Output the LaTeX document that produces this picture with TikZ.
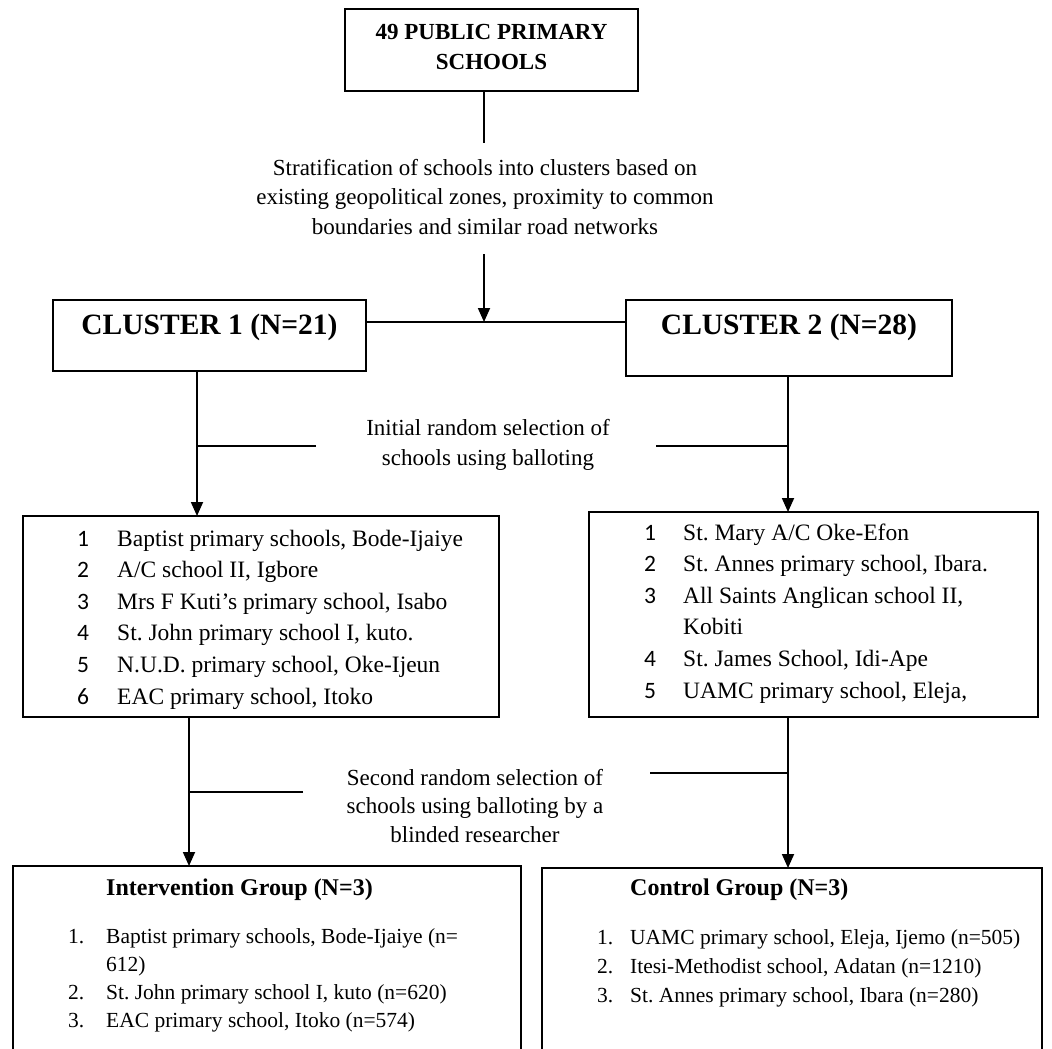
\documentclass[tikz,border=0pt]{standalone}
\usepackage{fontspec}
\setmainfont{Liberation Serif}
\newfontfamily\numfont{Carlito}
\usetikzlibrary{arrows.meta}
\frenchspacing
\begin{document}
\begin{tikzpicture}[x=1pt,y=-1pt,
  box/.style={draw, line width=1.8pt, inner sep=0pt, outer sep=0pt},
  ln/.style={line width=1.8pt},
  arr/.style={line width=1.8pt, -{Triangle[length=14pt,width=12pt]}},
  txt/.style={inner sep=0pt, align=center},
  listtxt/.style={inner sep=0pt, anchor=base west, font=\fontsize{23.5}{31.6}\selectfont},
  head/.style={inner sep=0pt, font=\bfseries\fontsize{29.5}{32}\selectfont},
  grouphead/.style={inner sep=0pt, anchor=west, font=\bfseries\fontsize{24}{28}\selectfont},
]
\useasboundingbox (0,0) rectangle (1052,1049);

% top box
\node[box, minimum width=293pt, minimum height=82pt] (top) at (491.5,50) {};
\node[txt, font=\bfseries\fontsize{23}{30}\selectfont] (toptxt) at (491.5,47) {49 PUBLIC PRIMARY\\SCHOOLS};

\coordinate (ax) at (484,0);
\coordinate (s1) at (484,143);
\node[txt, font=\fontsize{23}{29.5}\selectfont] (strat) at (485,197)
  {Stratification of schools into clusters based on\\existing geopolitical zones, proximity to common\\boundaries and similar road networks};
\coordinate (s2) at (484,254);
\coordinate (j) at (484,322);
\draw[ln] (top.south -| ax) -- (s1);
\draw[arr] (s2) -- (j);

% clusters
\node[box, minimum width=313pt, minimum height=71pt] (c1) at (209.5,335.5) {};
\node[head] (c1t) at (209.5,327) {CLUSTER 1 (N=21)};
\node[box, minimum width=326pt, minimum height=76pt] (c2) at (789,338) {};
\node[head] (c2t) at (789,327) {CLUSTER 2 (N=28)};
\draw[ln] (c1.east |- j) -- (c2.west |- j);

% list boxes
\node[box, minimum width=476pt, minimum height=201pt] (l1) at (261,616.5) {};
\node[box, minimum width=449pt, minimum height=205pt] (l2) at (813.5,614.5) {};

\coordinate (lx) at (197,0);
\coordinate (rx) at (788,0);
\draw[arr] (c1.south -| lx) -- (l1.north -| lx);
\coordinate (st1) at (316,446);
\draw[ln] (st1) -- (st1 -| lx);
\draw[arr] (c2.south -| rx) -- (l2.north -| rx);
\coordinate (st2) at (656,446);
\draw[ln] (st2) -- (st2 -| rx);

\node[txt, font=\fontsize{23}{30}\selectfont] (init) at (488,445)
  {Initial random selection of\\schools using balloting};

\node[listtxt] (l1t) at (77,546) {\begin{tabular}[t]{@{}p{40pt}@{}l@{}}
{\numfont 1} & Baptist primary schools, Bode-Ijaiye\\
{\numfont 2} & A/C school II, Igbore\\
{\numfont 3} & Mrs F Kuti’s primary school, Isabo\\
{\numfont 4} & St. John primary school I, kuto.\\
{\numfont 5} & N.U.D. primary school, Oke-Ijeun\\
{\numfont 6} & EAC primary school, Itoko
\end{tabular}};

\node[listtxt] (l2t) at (644,540) {\begin{tabular}[t]{@{}p{39pt}@{}l@{}}
{\numfont 1} & St. Mary A/C Oke-Efon\\
{\numfont 2} & St. Annes primary school, Ibara.\\
{\numfont 3} & All Saints Anglican school II,\\
 & Kobiti\\
{\numfont 4} & St. James School, Idi-Ape\\
{\numfont 5} & UAMC primary school, Eleja,
\end{tabular}};

% bottom boxes
\node[box, minimum width=508pt, minimum height=190pt, anchor=north west] (b1) at (13,866) {};
\node[box, minimum width=500pt, minimum height=190pt, anchor=north west] (b2) at (542,868) {};

\coordinate (lx2) at (189,0);
\draw[arr] (l1.south -| lx2) -- (b1.north -| lx2);
\coordinate (st3) at (303,792);
\draw[ln] (st3) -- (st3 -| lx2);
\draw[arr] (l2.south -| rx) -- (b2.north -| rx);
\coordinate (st4) at (650,773);
\draw[ln] (st4) -- (st4 -| rx);

\node[txt, font=\fontsize{23}{28.5}\selectfont] (sec) at (475,806)
  {Second random selection of\\schools using balloting by a\\blinded researcher};

\node[grouphead] (b1h) at (106,890) {Intervention Group (N=3)};
\node[listtxt, font=\fontsize{21.5}{28.3}\selectfont] (b1t) at (68,943) {\begin{tabular}[t]{@{}p{38pt}@{}l@{}}
1. & Baptist primary schools, Bode-Ijaiye (n=\\
 & 612)\\
2. & St. John primary school I, kuto (n=620)\\
3. & EAC primary school, Itoko (n=574)
\end{tabular}};

\node[grouphead] (b2h) at (630,890) {Control Group (N=3)};
\node[listtxt, font=\fontsize{21.5}{29}\selectfont] (b2t) at (597,944) {\begin{tabular}[t]{@{}p{33pt}@{}l@{}}
1. & UAMC primary school, Eleja, Ijemo (n=505)\\
2. & Itesi-Methodist school, Adatan (n=1210)\\
3. & St. Annes primary school, Ibara (n=280)
\end{tabular}};
\end{tikzpicture}
\end{document}
